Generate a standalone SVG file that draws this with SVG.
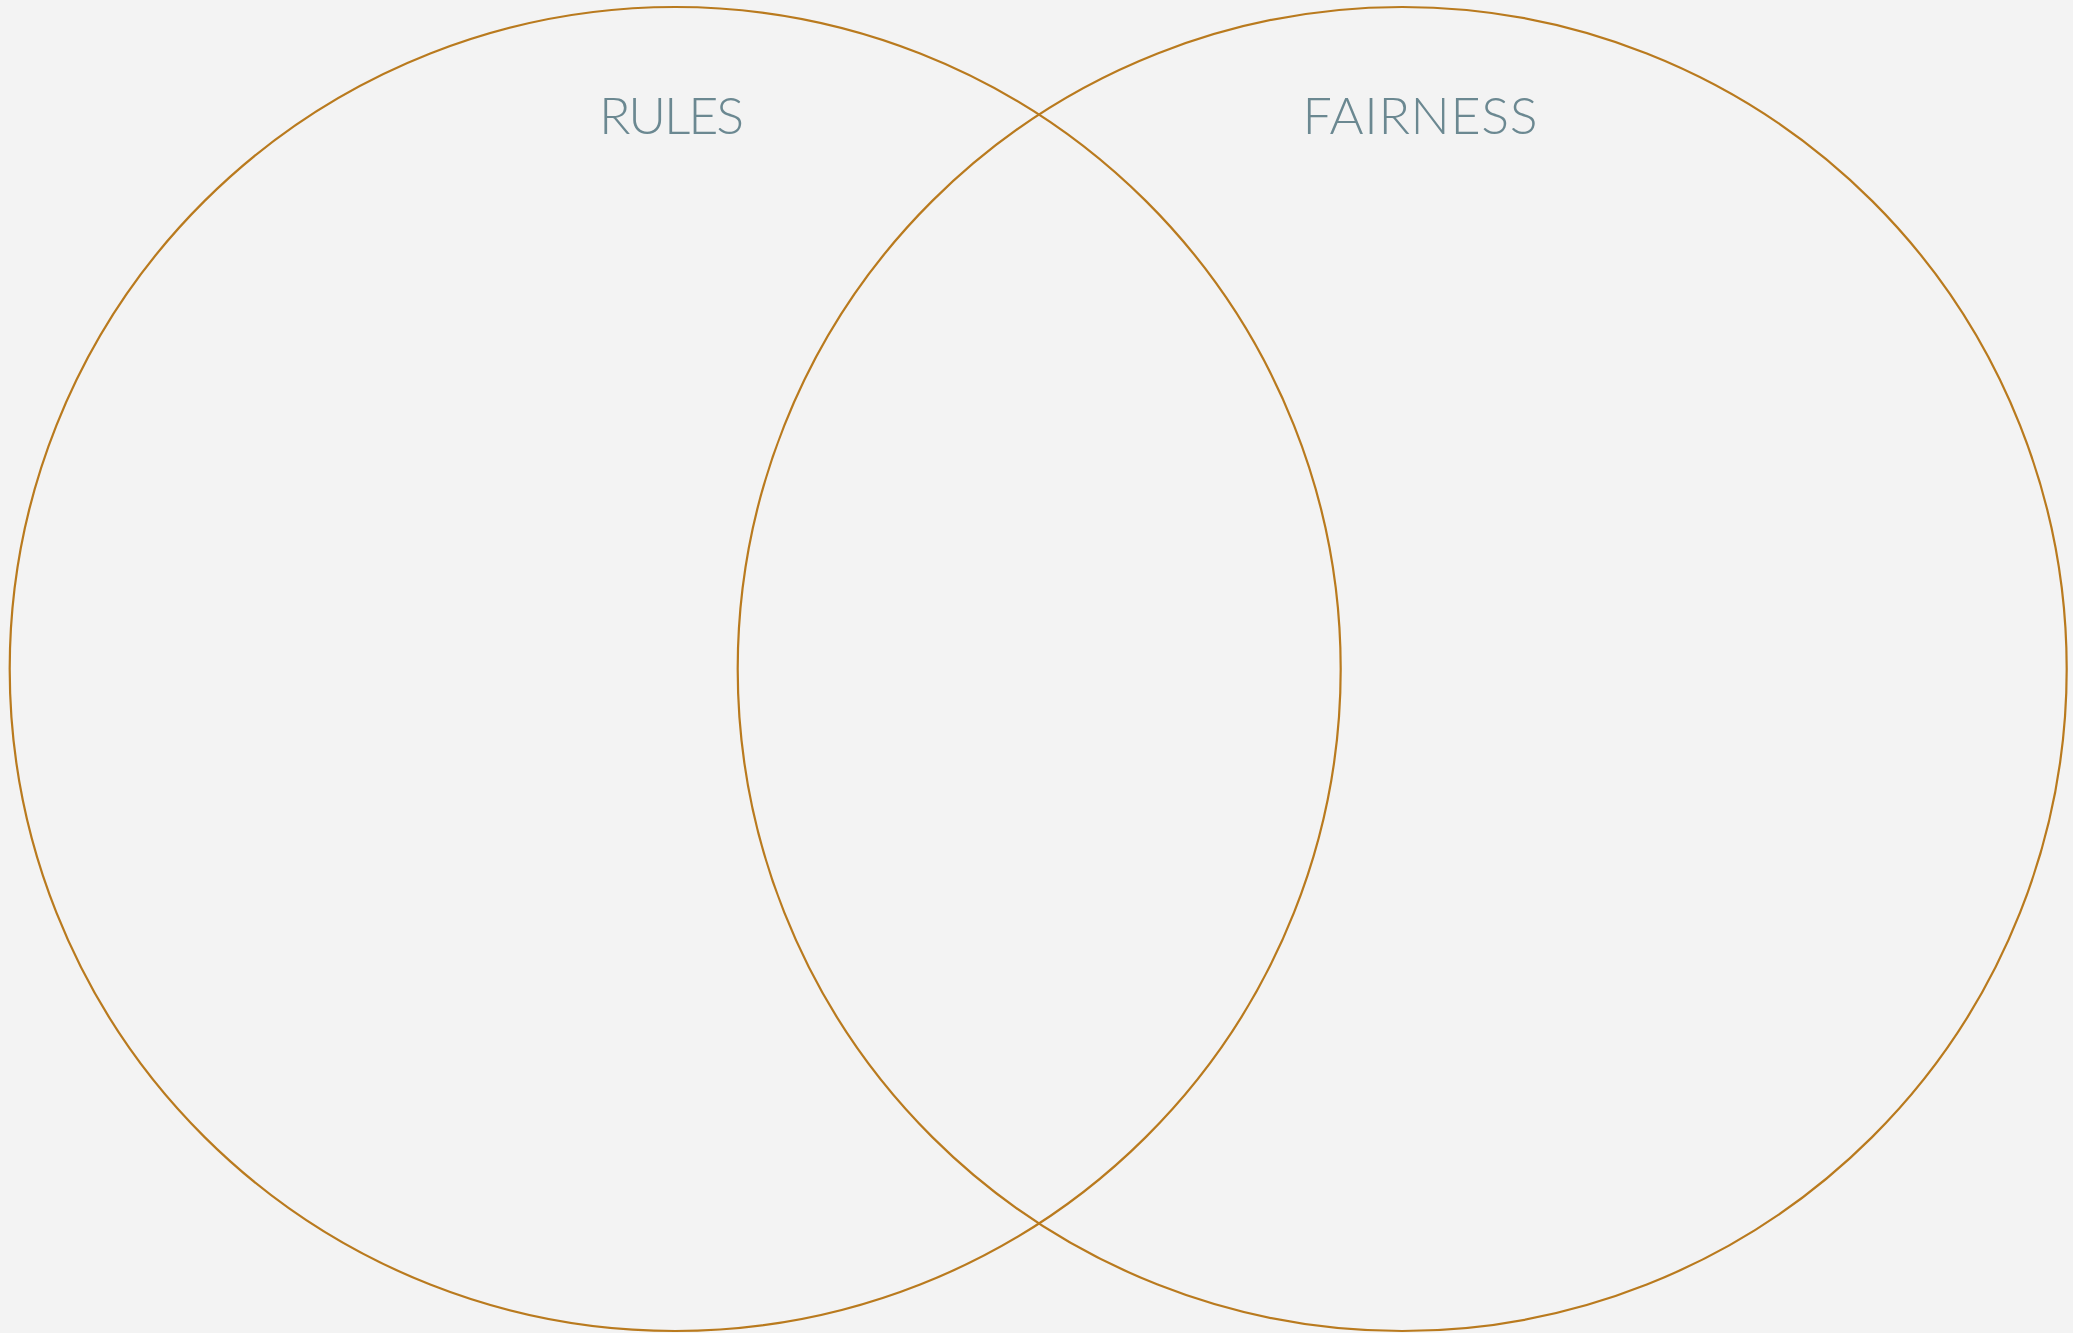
<svg xmlns="http://www.w3.org/2000/svg" width="2073" height="1333" viewBox="0 0 2073 1333">
<style>
.ring{fill:none;stroke:#b97a1e;stroke-width:2.2}
.lbl{font-family:Lato,"Open Sans","Liberation Sans",sans-serif;font-weight:300;font-size:52px;fill:#6b8891;text-anchor:middle}
</style>
<rect x="0" y="0" width="2073" height="1333" fill="#f3f3f3"/>
<g id="rules">
<ellipse class="ring" cx="675.2" cy="669" rx="665.5" ry="662"/>
<text class="lbl" x="671.5" y="134" textLength="145" lengthAdjust="spacing">RULES</text>
</g>
<g id="fairness">
<ellipse class="ring" cx="1402.2" cy="669" rx="664.5" ry="662"/>
<text class="lbl" x="1420" y="134" textLength="235" lengthAdjust="spacing">FAIRNESS</text>
</g>
<g id="connectors"/>
</svg>
